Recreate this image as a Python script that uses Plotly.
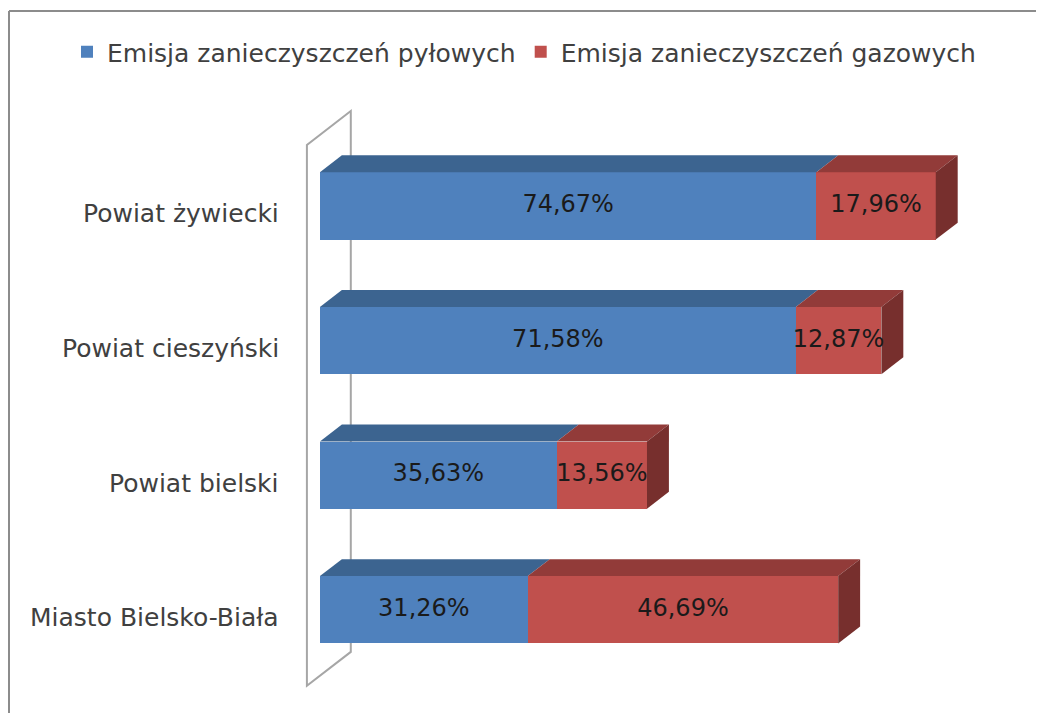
"""
Emisja zanieczyszczeń – wykres słupkowy skumulowany (efekt 3D)
"""
import plotly.graph_objects as go

# dane
categories = ["Miasto Bielsko-Biała", "Powiat bielski", "Powiat cieszyński", "Powiat żywiecki"]
pylowe = [31.26, 35.63, 71.58, 74.67]
gazowe = [46.69, 13.56, 12.87, 17.96]
series_names = ["Emisja zanieczyszczeń pyłowych", "Emisja zanieczyszczeń gazowych"]

# wygląd (strona ma 8 px marginesu body, więc wszystko przesunięte o OFF)
OFF = 8
W, H = 1044, 713
ML, MR, MT, MB = 300 - OFF, 26 + OFF, 105 - OFF, 9 + OFF
X_RANGE = [-3, 105]
Y_RANGE = [-0.7, 3.75]
BAR_W = 0.5
DX, DY = 3.3, 0.126          # głębokość 3D w jednostkach osi
FONT = "DejaVu Sans"

front = ["#4F81BD", "#C0504D"]
top = ["#3C6490", "#923B39"]
side = ["#345781", "#772F2D"]

plot_w = W - ML - MR
plot_h = H - MT - MB


def px_x(px):
    # piksel ekranu -> współrzędna paper
    return (px - OFF - ML) / plot_w


def px_y(py):
    return (H - MB - (py - OFF)) / plot_h


fig = go.Figure()

ypos = list(range(len(categories)))
series = [pylowe, gazowe]

# ścianka boczna (oś kategorii)
wall_x0, wall_x1 = -1.96, -1.96 + 2 * DX
wall_y0, wall_y1 = -0.565, 3.453
fig.add_shape(
    type="path",
    path=(f"M {wall_x0},{wall_y0} L {wall_x0},{wall_y1} "
          f"L {wall_x1},{wall_y1 + 2 * DY} L {wall_x1},{wall_y0 + 2 * DY} Z"),
    xref="x", yref="y",
    line=dict(color="#A6A6A6", width=2),
    fillcolor="rgba(0,0,0,0)",
    layer="below",
)

# ściany górne i boczne
for i, y in enumerate(ypos):
    start = 0.0
    for s, vals in enumerate(series):
        end = start + vals[i]
        yt = y + BAR_W / 2
        fig.add_trace(go.Scatter(
            x=[start, end, end + DX, start + DX, start],
            y=[yt, yt, yt + DY, yt + DY, yt],
            mode="lines", fill="toself", fillcolor=top[s],
            line=dict(width=0), showlegend=False, hoverinfo="skip",
        ))
        if s == len(series) - 1:
            yb = y - BAR_W / 2
            fig.add_trace(go.Scatter(
                x=[end, end, end + DX, end + DX, end],
                y=[yb, yt, yt + DY, yb + DY, yb],
                mode="lines", fill="toself", fillcolor=side[s],
                line=dict(width=0), showlegend=False, hoverinfo="skip",
            ))
        start = end

# ściany przednie
for s, vals in enumerate(series):
    fig.add_trace(go.Bar(
        y=ypos, x=vals, orientation="h", name=series_names[s],
        marker=dict(color=front[s], line=dict(width=0)),
        width=BAR_W,
    ))

# etykiety danych
for s, vals in enumerate(series):
    base = [sum(series[k][i] for k in range(s)) for i in ypos]
    fig.add_trace(go.Scatter(
        x=[b + v / 2 for b, v in zip(base, vals)], y=ypos,
        mode="text",
        text=[f"{v:.2f}%".replace(".", ",") for v in vals],
        textfont=dict(family=FONT, size=24, color="#1A1A1A"),
        showlegend=False, hoverinfo="skip",
    ))

# etykiety kategorii (lekko poniżej środka słupka, jak w Excelu)
for y, name in zip(ypos, categories):
    fig.add_annotation(
        x=px_x(281), xref="paper", y=y, yref="y",
        text=name, showarrow=False, xanchor="right", yanchor="middle",
        yshift=-8,
        font=dict(family=FONT, size=25, color="#404040"),
    )

# ramka wykresu
fig.add_shape(type="line", xref="paper", yref="paper",
              x0=px_x(9), y0=px_y(11), x1=px_x(W + OFF), y1=px_y(11),
              line=dict(color="#8C8C8C", width=2))
fig.add_shape(type="line", xref="paper", yref="paper",
              x0=px_x(9), y0=px_y(11), x1=px_x(9), y1=px_y(H + OFF),
              line=dict(color="#8C8C8C", width=2))

fig.update_layout(
    width=W, height=H,
    barmode="stack",
    bargap=0,
    plot_bgcolor="white",
    paper_bgcolor="white",
    margin=dict(l=ML, r=MR, t=MT, b=MB),
    font=dict(family=FONT, color="#404040"),
    legend=dict(
        orientation="h",
        x=px_x(67), xanchor="left",
        y=px_y(52), yanchor="middle",
        font=dict(family=FONT, size=25, color="#404040"),
        itemwidth=30,
        traceorder="normal",
    ),
    xaxis=dict(range=X_RANGE, visible=False, fixedrange=True),
    yaxis=dict(range=Y_RANGE, visible=False, fixedrange=True),
)

fig.write_html("out.html")
